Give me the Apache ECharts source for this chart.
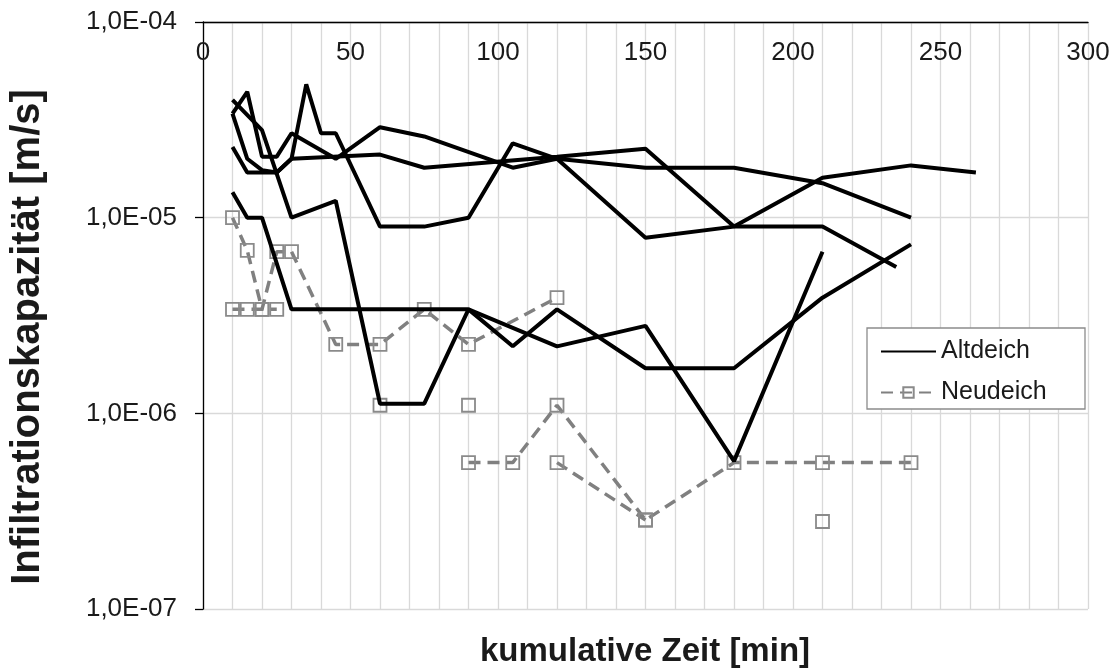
<!DOCTYPE html>
<html>
<head>
<meta charset="utf-8">
<script src="https://cdn.jsdelivr.net/npm/echarts@6/dist/echarts.min.js"></script>
<style>html,body{margin:0;padding:0;background:#fff}#c{width:1119px;height:672px}</style>
</head>
<body>
<div id="c"></div>
<script>
// Altdeich series (time [min], infiltration capacity [m/s])
var alt1 = [[10,4.0e-5],[20,2.8e-5],[30,1.0e-5],[45,1.22e-5],[60,1.12e-6],[75,1.12e-6],[90,3.4e-6],[105,2.2e-6],[120,3.4e-6],[150,1.7e-6],[180,1.7e-6],[210,3.9e-6],[240,7.3e-6]];
var alt2 = [[10,1.35e-5],[15,1.0e-5],[20,1.0e-5],[30,3.4e-6],[90,3.4e-6],[120,2.2e-6],[150,2.8e-6],[180,5.7e-7],[210,6.7e-6]];
var alt3 = [[10,3.4e-5],[15,4.4e-5],[20,2.05e-5],[25,2.05e-5],[30,2.7e-5],[45,2.0e-5],[60,2.9e-5],[75,2.6e-5],[105,1.8e-5],[120,2.0e-5],[150,1.8e-5],[180,1.8e-5],[210,1.5e-5],[240,1.0e-5]];
var alt4 = [[10,3.4e-5],[15,2.0e-5],[20,1.75e-5],[25,1.7e-5],[30,2.0e-5],[60,2.1e-5],[75,1.8e-5],[120,2.05e-5],[150,2.25e-5],[180,9.0e-6],[210,1.6e-5],[240,1.85e-5],[262,1.7e-5]];
var alt5 = [[10,2.3e-5],[15,1.7e-5],[25,1.7e-5],[30,2.0e-5],[35,4.8e-5],[40,2.7e-5],[45,2.7e-5],[60,9.0e-6],[75,9.0e-6],[90,1.0e-5],[105,2.4e-5],[120,2.0e-5],[150,7.9e-6],[180,9.0e-6],[210,9.0e-6],[235,5.6e-6]];

// Neudeich series
var neu1 = [[10,1.0e-5],[15,6.8e-6],[20,3.4e-6],[25,6.7e-6],[30,6.7e-6],[45,2.25e-6],[60,2.25e-6],[75,3.4e-6],[90,2.25e-6],[120,3.9e-6]];
var neu2 = [[10,3.4e-6],[15,3.4e-6],[20,3.4e-6],[25,3.4e-6]];
var neu3 = [[60,1.1e-6],[90,1.1e-6],[210,2.8e-7]];
var neu4 = [[90,5.6e-7],[105,5.6e-7],[120,1.1e-6],[150,2.85e-7],[180,5.6e-7],[210,5.6e-7],[240,5.6e-7]];
var neu5 = [[120,5.6e-7],[150,2.85e-7]];

var xMin = 0, xMax = 300, xStep = 10, xLabelStep = 50;
var yTickExp = [-7, -6, -5, -4];
var yTickLabels = ['1,0E-07', '1,0E-06', '1,0E-05', '1,0E-04'];
var legendNames = ['Altdeich', 'Neudeich'];
var xTitle = 'kumulative Zeit [min]';
var yTitle = 'Infiltrationskapazität [m/s]';

var font = '"Liberation Sans", Arial, sans-serif';
var altColor = '#000000';
var neuColor = '#808080';

function altSeries(d) {
  return { name: legendNames[0], type: 'line', data: d, symbol: 'none', showSymbol: false,
    lineStyle: { color: altColor, width: 4 }, itemStyle: { color: altColor }, z: 4, animation: false };
}
function neuSeries(d, showLine) {
  return { name: legendNames[1], type: 'line', data: d, symbol: 'rect', symbolSize: 13, showSymbol: true,
    lineStyle: { color: neuColor, width: showLine ? 3.5 : 0, type: [12, 7] },
    itemStyle: { color: 'rgba(255,255,255,0)', borderColor: '#8a8a8a', borderWidth: 1.8 },
    z: 3, animation: false };
}

var chart = echarts.init(document.getElementById('c'), null, { renderer: 'canvas' });
chart.setOption({
  backgroundColor: '#ffffff',
  animation: false,
  grid: { left: 203, right: 31, top: 22, bottom: 63, containLabel: false },
  xAxis: {
    type: 'value', position: 'top', min: xMin, max: xMax, interval: xStep,
    axisLine: { show: true, onZero: false, lineStyle: { color: '#000', width: 1.3 } },
    axisTick: { show: false },
    axisLabel: { inside: true, margin: 18, fontSize: 26, fontFamily: font, color: '#1a1a1a',
      formatter: function (v) { return (v % xLabelStep === 0) ? String(v) : ''; } },
    splitLine: { show: true, lineStyle: { color: '#d9d9d9', width: 1.3 } }
  },
  yAxis: {
    type: 'log', logBase: 10, min: Math.pow(10, yTickExp[0]), max: Math.pow(10, yTickExp[yTickExp.length - 1]),
    axisLine: { show: true, onZero: false, lineStyle: { color: '#000', width: 1.3 } },
    axisTick: { show: true, inside: false, length: 8, lineStyle: { color: '#000', width: 1.3 } },
    axisLabel: { margin: 26, fontSize: 26, fontFamily: font, color: '#1a1a1a',
      formatter: function (v) {
        var e = Math.round(Math.log(v) / Math.LN10);
        var i = yTickExp.indexOf(e);
        return i >= 0 ? yTickLabels[i] : '';
      } },
    splitLine: { show: true, lineStyle: { color: '#d9d9d9', width: 1.3 } }
  },
  legend: {
    data: [
      { name: legendNames[0], itemStyle: { color: 'rgba(0,0,0,0)', borderWidth: 0, opacity: 0 } },
      { name: legendNames[1] }
    ],
    orient: 'vertical', left: 880, top: 339,
    itemWidth: 55, itemHeight: 13, itemGap: 16, itemTextGap: 10,
    textStyle: { fontSize: 25, fontFamily: font, color: '#1a1a1a' },
    padding: 0, z: 20
  },
  graphic: [
    { type: 'rect', shape: { x: 867, y: 328, width: 218, height: 81 },
      style: { fill: '#ffffff', stroke: '#8c8c8c', lineWidth: 1.3 }, z: 10 },
    { type: 'text', x: 28, y: 337, rotation: Math.PI / 2,
      style: { text: yTitle, font: 'bold 40px ' + font, fill: '#1a1a1a', align: 'center', verticalAlign: 'middle' }, z: 10 },
    { type: 'text', x: 645, y: 652,
      style: { text: xTitle, font: 'bold 33px ' + font, fill: '#1a1a1a', align: 'center', verticalAlign: 'middle' }, z: 10 }
  ],
  series: [
    neuSeries(neu1, true), neuSeries(neu2, true), neuSeries(neu3, false), neuSeries(neu4, true), neuSeries(neu5, true),
    altSeries(alt1), altSeries(alt2), altSeries(alt3), altSeries(alt4), altSeries(alt5)
  ]
});
</script>
</body>
</html>
